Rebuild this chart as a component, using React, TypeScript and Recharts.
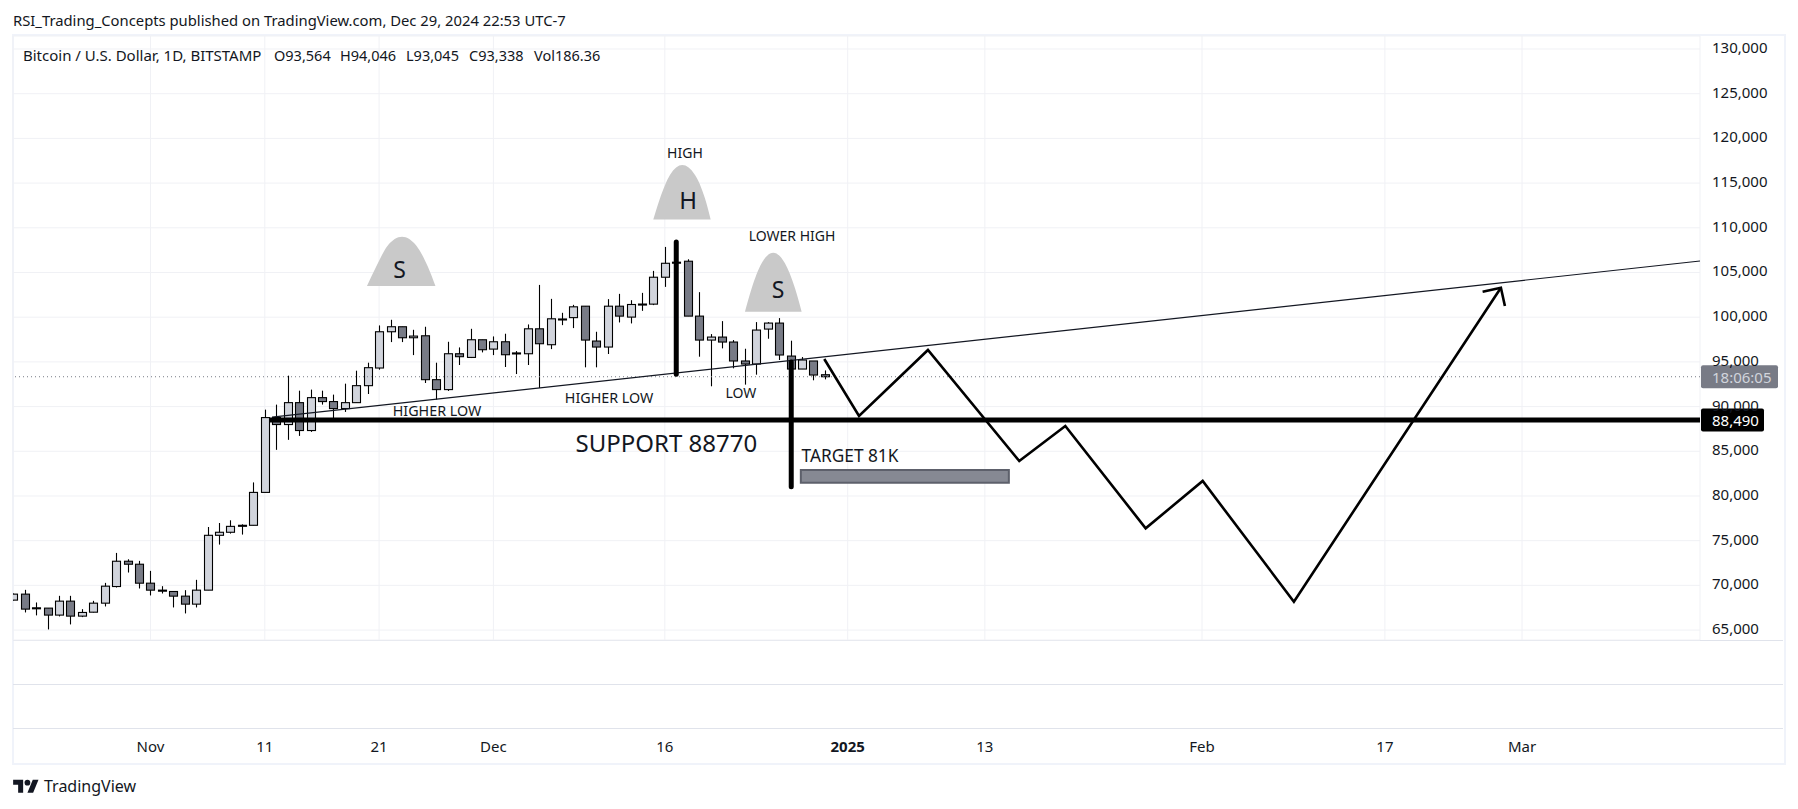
import {
  ComposedChart, Bar, Line, Area, XAxis, YAxis, CartesianGrid,
  ReferenceLine, ReferenceDot, ReferenceArea,
} from "recharts";

const FONT = "'Noto Sans', sans-serif";
const INK = "#131722";

// daily candles, first one is Oct 20 (day -12, day 0 = Nov 1)
const FIRST_DAY = -12;
const opens = [
  68350, 69020, 67490, 67455, 66675, 68236, 66560, 67000, 68010, 69870, 72700, 72365,
  70245, 69465, 69315, 68795, 67900, 69465, 75600, 75940, 76720, 76720, 80400, 88770,
  87990, 90440, 87320, 91000, 90560, 89775, 90440, 92340, 94314, 98370, 98930, 97700,
  97920, 93010, 91900, 95910, 95500, 97475, 96430, 97250, 96000, 95910, 98700, 96920,
  99780, 99950, 101230, 97330, 96660, 101230, 100010, 101450, 101460, 104470, 106060, 106260,
  100120, 97440, 97775, 97220, 95100, 94760, 98670, 99340, 95650, 94200, 95100, 93564,
];
const highs = [
  69100, 69500, 68090, 67455, 68830, 68830, 67340, 68270, 70280, 73630, 72920, 72740,
  71620, 69910, 69315, 69465, 70620, 76530, 76980, 77280, 76830, 81520, 89660, 90220,
  93460, 91780, 91900, 91780, 91340, 92565, 94015, 94910, 99080, 99710, 98930, 98590,
  98930, 94910, 97250, 96620, 98700, 97475, 97850, 98150, 96210, 99190, 103610, 102050,
  100490, 101380, 101230, 98370, 102020, 102610, 101900, 102720, 105180, 107860, 108300, 106480,
  102800, 98110, 99560, 97440, 96470, 99450, 99450, 99900, 97370, 95540, 95100, 94046,
];
const lows = [
  68300, 66970, 66640, 65070, 66525, 65630, 66450, 66970, 67640, 69760, 71435, 69650,
  68870, 69090, 67530, 66860, 67530, 69465, 74560, 75790, 75680, 76720, 80400, 85160,
  86280, 86720, 87170, 90220, 88660, 89400, 90440, 91410, 94130, 97215, 97215, 95760,
  92640, 90780, 91750, 94650, 95430, 96060, 95760, 94425, 93640, 94650, 92080, 96430,
  99110, 98780, 94390, 94390, 95880, 99410, 99300, 100710, 101350, 103390, 105300, 100120,
  95580, 92270, 96510, 94280, 92455, 93570, 97590, 95210, 93400, 94200, 92940, 93045,
];
const closes = [
  69020, 67344, 67450, 66675, 68236, 66560, 66970, 68010, 69910, 72700, 72365, 70245,
  69465, 69350, 68795, 67900, 69465, 75600, 75940, 76600, 76640, 80400, 88770, 87990,
  90440, 87320, 91000, 90560, 89775, 90440, 92340, 94350, 98370, 98930, 97700, 97885,
  93010, 91900, 95910, 95580, 97475, 96360, 97250, 95800, 95990, 98700, 97030, 99820,
  99800, 101160, 97440, 96660, 101230, 100120, 101420, 101470, 104470, 106030, 106150, 100120,
  97440, 97775, 97220, 95100, 94760, 98560, 99340, 95770, 94200, 95210, 93530, 93338,
];

const priceTicks = [
  65000, 70000, 75000, 80000, 85000, 90000, 95000, 100000, 105000,
  110000, 115000, 120000, 125000, 130000,
];
const timeTicks = [0, 10, 20, 30, 45, 61, 73, 92, 108, 120];
const timeLabels = ["Nov", "11", "21", "Dec", "16", "2025", "13", "Feb", "17", "Mar"];

const LAST_PRICE = 93338;
const SUPPORT_PRICE = 88490;
const RIGHT_EDGE = 135.57;

const zigzag = [
  { d: 58.95, p: 95323 }, { d: 61.99, p: 88947 }, { d: 68.02, p: 96330 },
  { d: 76.01, p: 83914 }, { d: 80.04, p: 87829 }, { d: 87.07, p: 76385 },
  { d: 92.06, p: 81676 }, { d: 100.04, p: 68175 }, { d: 118.15, p: 103299 },
];
const arrowHead = [{ d: 116.55, p: 102852 }, { d: 118.15, p: 103299 }, { d: 118.5, p: 101252 }];

const domeLeft = [
  { d: 18.94, p: 103489 }, { d: 19.73, p: 105615 }, { d: 20.73, p: 107964 }, { d: 22.01, p: 109004 },
  { d: 23.28, p: 107964 }, { d: 24.28, p: 105615 }, { d: 24.93, p: 103489 },
];
const domeHead = [
  { d: 43.99, p: 110928 }, { d: 44.58, p: 113299 }, { d: 45.45, p: 115906 }, { d: 46.53, p: 117024 },
  { d: 47.64, p: 115906 }, { d: 48.51, p: 113299 }, { d: 49.01, p: 110928 },
];
const domeRight = [
  { d: 52.01, p: 100614 }, { d: 52.6, p: 103232 }, { d: 53.47, p: 106028 }, { d: 54.49, p: 107214 },
  { d: 55.51, p: 106028 }, { d: 56.39, p: 103232 }, { d: 56.97, p: 100614 },
];

const notes = [
  { text: "HIGH", d: 46.76, p: 118400, size: 14 },
  { text: "LOWER HIGH", d: 56.13, p: 109116, size: 14 },
  { text: "HIGHER LOW", d: 25.07, p: 89541, size: 14.3 },
  { text: "HIGHER LOW", d: 40.12, p: 90994, size: 14.3 },
  { text: "LOW", d: 51.66, p: 91554, size: 14 },
  { text: "SUPPORT 88770", d: 45.14, p: 85927, size: 24 },
  { text: "TARGET 81K", d: 61.2, p: 84473, size: 17.3 },
  { text: "S", d: 21.8, p: 105400, size: 23 },
  { text: "H", d: 47.03, p: 113109, size: 24 },
  { text: "S", d: 54.9, p: 103154, size: 23 },
];

const quote = [
  { text: "O93,564", left: 274 },
  { text: "H94,046", left: 340 },
  { text: "L93,045", left: 406 },
  { text: "C93,338", left: 469 },
  { text: "Vol186.36", left: 534 },
];

const rows = opens.map((open, i) => ({
  d: FIRST_DAY + i,
  open,
  high: highs[i],
  low: lows[i],
  close: closes[i],
}));

function Candle({ x, y, width, height, payload }: any) {
  const top = Math.min(y, y + height);
  const h = Math.abs(height);
  const perPrice = h / (payload.high - payload.low);
  const bodyTop = top + (payload.high - Math.max(payload.open, payload.close)) * perPrice;
  const bodyH = Math.max(1, Math.abs(payload.open - payload.close) * perPrice);
  const mid = Math.round(x + width / 2) + 0.5;
  const up = payload.close >= payload.open;
  return (
    <g>
      <line x1={mid} x2={mid} y1={top} y2={top + h} stroke="#000" strokeWidth={1.1} />
      <rect
        x={mid - 4} y={bodyTop} width={8} height={bodyH}
        fill={up ? "#d1d4dc" : "#787b86"} stroke="#000" strokeWidth={1.1}
      />
    </g>
  );
}

function TimeTick({ x, y, payload }: any) {
  const label = timeLabels[timeTicks.indexOf(payload.value)];
  return (
    <text
      x={x} y={y + 110} textAnchor="middle" fontSize={15} fill={INK} fontFamily={FONT}
      fontWeight={label === "2025" ? 700 : 400}
    >
      {label}
    </text>
  );
}

function PriceTick({ x, y, payload }: any) {
  return (
    <text
      x={x} y={y - 2} dominantBaseline="central" fontSize={15} fill={INK} fontFamily={FONT}
    >
      {payload.value.toLocaleString("en-US")}
    </text>
  );
}

function Note({ cx, cy, text, size }: any) {
  return (
    <text
      x={cx} y={cy} textAnchor="middle" dominantBaseline="central"
      fontSize={size} fill={INK} fontFamily={FONT}
    >
      {text}
    </text>
  );
}

// ReferenceDot pushes its own fill/stroke onto the shape, so the colours go under other names
function PriceBadge({ cx, cy, text, bg, ink, w }: any) {
  return (
    <g>
      <rect x={cx + 1} y={cy - 11.5} width={w} height={23} rx={2} style={{ fill: bg }} />
      <text
        x={cx + 12} y={cy} dominantBaseline="central" fontSize={15}
        style={{ fill: ink }} fontFamily={FONT}
      >
        {text}
      </text>
    </g>
  );
}

export default function App() {
  return (
    <div style={{ position: "absolute", left: 0, top: 0, width: 1798, height: 809, background: "#fff", fontFamily: FONT, color: INK, overflow: "hidden" }}>
      <div style={{ position: "absolute", left: 13, top: 10, fontSize: 14.8, whiteSpace: "nowrap" }}>
        RSI_Trading_Concepts published on TradingView.com, Dec 29, 2024 22:53 UTC-7
      </div>
      <div style={{ position: "absolute", left: 12, top: 34, width: 1770, height: 727, border: "2px solid #f0f3fa" }} />
      <div style={{ position: "absolute", left: 13, top: 640, width: 1770, height: 1, background: "#e0e3eb" }} />
      <div style={{ position: "absolute", left: 13, top: 684, width: 1770, height: 1, background: "#e0e3eb" }} />
      <div style={{ position: "absolute", left: 13, top: 728, width: 1770, height: 1, background: "#e0e3eb" }} />

      <div style={{ position: "absolute", left: 0, top: 0 }}>
        <ComposedChart
          width={1798}
          height={809}
          data={rows}
          margin={{ left: 13, right: 13, top: 36, bottom: 44 }}
        >
          <CartesianGrid stroke="#f0f1f5" />
          <XAxis
            dataKey="d" type="number" scale="linear" domain={[-12.03, RIGHT_EDGE]} allowDataOverflow
            ticks={timeTicks} interval={0} height={125} axisLine={false} tickLine={false}
            tickSize={0} tick={<TimeTick />}
          />
          <YAxis
            orientation="right" type="number" domain={[63889, 131454]} allowDataOverflow
            ticks={priceTicks} interval={0} width={85} axisLine={false} tickLine={false}
            tickSize={0} tickMargin={12} tick={<PriceTick />}
          />

          <ReferenceLine y={LAST_PRICE} stroke="#787b86" strokeDasharray="1 3" />
          <ReferenceLine
            stroke="#131722" strokeWidth={1.2}
            segment={[{ x: 10.63, y: 88810 }, { x: RIGHT_EDGE, y: 106286 }]}
          />
          <ReferenceLine
            stroke="#000" strokeWidth={5}
            segment={[{ x: 10.45, y: SUPPORT_PRICE }, { x: RIGHT_EDGE, y: SUPPORT_PRICE }]}
          />
          <ReferenceLine
            stroke="#000" strokeWidth={5} strokeLinecap="round"
            segment={[{ x: 46, y: 108400 }, { x: 46, y: 93610 }]}
          />
          <ReferenceLine
            stroke="#000" strokeWidth={5} strokeLinecap="round"
            segment={[{ x: 56.06, y: 95000 }, { x: 56.06, y: 81040 }]}
          />
          <ReferenceArea
            x1={56.9} x2={75.1} y1={81488} y2={82908}
            fill="#868993" fillOpacity={1} stroke="#5d606b" strokeWidth={2}
          />

          <Area data={domeLeft} dataKey="p" type="monotone" baseValue={103489} fill="#c9c9c9" fillOpacity={1} stroke="none" dot={false} isAnimationActive={false} />
          <Area data={domeHead} dataKey="p" type="monotone" baseValue={110928} fill="#c9c9c9" fillOpacity={1} stroke="none" dot={false} isAnimationActive={false} />
          <Area data={domeRight} dataKey="p" type="monotone" baseValue={100614} fill="#c9c9c9" fillOpacity={1} stroke="none" dot={false} isAnimationActive={false} />

          <Bar
            dataKey={(r: any) => [r.low, r.high]} barSize={8}
            shape={<Candle />} isAnimationActive={false}
          />

          <Line data={zigzag} dataKey="p" type="linear" stroke="#000" strokeWidth={2.6} dot={false} isAnimationActive={false} />
          <Line data={arrowHead} dataKey="p" type="linear" stroke="#000" strokeWidth={2.6} dot={false} isAnimationActive={false} />

          {notes.map((n, i) => (
            <ReferenceDot
              key={i} x={n.d} y={n.p} r={0} isFront
              shape={<Note text={n.text} size={n.size} />}
            />
          ))}
          <ReferenceDot
            x={RIGHT_EDGE} y={LAST_PRICE} r={0} isFront ifOverflow="visible"
            shape={<PriceBadge text="18:06:05" bg="#787b86" ink="#d1d4dc" w={77} />}
          />
          <ReferenceDot
            x={RIGHT_EDGE} y={SUPPORT_PRICE} r={0} isFront ifOverflow="visible"
            shape={<PriceBadge text="88,490" bg="#000" ink="#fff" w={63} />}
          />
        </ComposedChart>
      </div>

      <div style={{ position: "absolute", left: 23, top: 45, fontSize: 15, whiteSpace: "nowrap" }}>
        Bitcoin / U.S. Dollar, 1D, BITSTAMP
      </div>
      {quote.map((q) => (
        <div key={q.text} style={{ position: "absolute", left: q.left, top: 45, fontSize: 14.5, whiteSpace: "nowrap" }}>
          {q.text}
        </div>
      ))}

      <svg style={{ position: "absolute", left: 13, top: 777 }} width={26} height={20} viewBox="0 0 36 28">
        <path d="M14 22H7V11H0V4h14v18zM28 22h-8l7.5-18h8L28 22z" fill={INK} />
        <circle cx={20} cy={8} r={4} fill={INK} />
      </svg>
      <div style={{ position: "absolute", left: 44, top: 775, fontSize: 16 }}>TradingView</div>
    </div>
  );
}
